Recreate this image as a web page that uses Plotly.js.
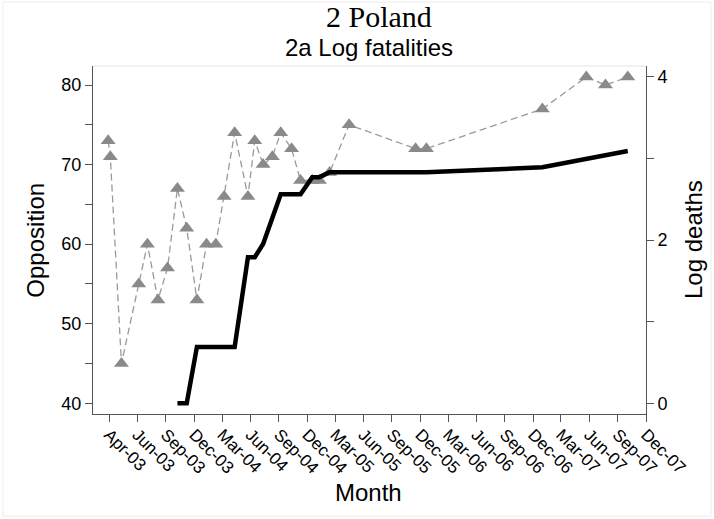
<!DOCTYPE html>
<html>
<head>
<meta charset="utf-8">
<script src="https://cdn.plot.ly/plotly-3.0.1.min.js"></script>
<style>
  html, body { margin: 0; padding: 0; background: #fff; }
  #chart { width: 714px; height: 519px; }
</style>
</head>
<body>
<div id="chart"></div>
<script>
// Survey dates for Poland
const surveyDates = [
  '2003-03-29', '2003-04-05', '2003-05-11', '2003-07-06', '2003-08-03', '2003-09-06',
  '2003-10-07', '2003-11-08', '2003-12-08', '2004-01-10', '2004-02-10', '2004-03-11',
  '2004-04-07', '2004-05-11', '2004-06-23', '2004-07-15', '2004-08-11', '2004-09-10',
  '2004-10-07', '2004-11-11', '2004-12-10', '2005-01-17', '2005-02-09', '2005-03-14',
  '2005-05-16', '2005-12-17', '2006-01-21', '2007-01-31', '2007-06-22', '2007-08-23',
  '2007-11-03'
];

// Share opposed to the war (left axis)
const opposition = [
  73, 71, 45, 55, 60, 53,
  57, 67, 62, 53, 60, 60,
  66, 74, 66, 73, 70, 71,
  74, 72, 68, 68, 68, 69,
  75, 72, 72, 77, 81, 80,
  81
];

// Log of cumulative fatalities (right axis); no deaths recorded before Nov 2003
const logDeaths = [
  null, null, null, null, null, null,
  null, 0, 0, 0.69, 0.69, 0.69,
  0.69, 0.69, 1.79, 1.79, 1.95, 2.28,
  2.56, 2.56, 2.56, 2.77, 2.77, 2.83,
  2.83, 2.83, 2.83, 2.89, 2.99, 3.04,
  3.09
];

// Month axis ticks
const monthTickDates = [
  '2003-04-01', '2003-07-01', '2003-10-01', '2004-01-01', '2004-04-01',
  '2004-07-01', '2004-10-01', '2005-01-01', '2005-04-01', '2005-07-01',
  '2005-10-01', '2006-01-01', '2006-04-01', '2006-07-01', '2006-10-01',
  '2007-01-01', '2007-04-01', '2007-07-01', '2007-10-01', '2008-01-01'
];
const monthTickLabels = [
  'Apr-03', 'Jun-03', 'Sep-03', 'Dec-03', 'Mar-04',
  'Jun-04', 'Sep-04', 'Dec-04', 'Mar-05', 'Jun-05',
  'Sep-05', 'Dec-05', 'Mar-06', 'Jun-06', 'Sep-06',
  'Dec-06', 'Mar-07', 'Jun-07', 'Sep-07', 'Dec-07'
];

const oppTicks = [40, 45, 50, 55, 60, 65, 70, 75, 80];
const oppTickLabels = ['40', '', '50', '', '60', '', '70', '', '80'];
const deathTicks = [0, 1, 2, 3, 4];
const deathTickLabels = ['0', '', '2', '', '4'];

const sans = 'Liberation Sans, Arial, Helvetica, sans-serif';
const serif = 'Liberation Serif, Times New Roman, serif';
const axisGrey = '#555555';

const traces = [
  {
    x: surveyDates,
    y: opposition,
    type: 'scatter',
    mode: 'lines+markers',
    name: 'Opposition',
    line: { color: '#9a9a9a', width: 1.3, dash: '7px,4px' },
    marker: { symbol: 'triangle-up', size: 13, color: '#8a8a8a' },
    yaxis: 'y',
    hoverinfo: 'skip'
  },
  {
    x: surveyDates,
    y: logDeaths,
    type: 'scatter',
    mode: 'lines',
    name: 'Log deaths',
    line: { color: '#000000', width: 4.5 },
    connectgaps: false,
    yaxis: 'y2',
    hoverinfo: 'skip'
  }
];

const layout = {
  width: 714,
  height: 519,
  margin: { l: 93, r: 68, t: 66, b: 105 },
  paper_bgcolor: '#ffffff',
  plot_bgcolor: '#ffffff',
  showlegend: false,
  font: { family: sans, color: '#000000', size: 18 },
  xaxis: {
    type: 'date',
    range: ['2003-02-08', '2008-01-01'],
    tickmode: 'array',
    tickvals: monthTickDates,
    ticktext: monthTickLabels,
    tickangle: 45,
    ticks: 'outside',
    ticklen: 7,
    tickcolor: axisGrey,
    tickfont: { family: sans, size: 17, color: '#000' },
    ticklabelstandoff: -4,
    showline: true,
    linecolor: axisGrey,
    linewidth: 1,
    showgrid: false,
    zeroline: false
  },
  yaxis: {
    range: [38.66, 82.39],
    tickmode: 'array',
    tickvals: oppTicks,
    ticktext: oppTickLabels,
    ticks: 'outside',
    ticklen: 7,
    tickcolor: axisGrey,
    tickfont: { family: sans, size: 18, color: '#000' },
    showline: true,
    linecolor: axisGrey,
    linewidth: 1,
    showgrid: false,
    zeroline: false
  },
  yaxis2: {
    overlaying: 'y',
    side: 'right',
    range: [-0.131, 4.131],
    tickmode: 'array',
    tickvals: deathTicks,
    ticktext: deathTickLabels,
    ticks: 'outside',
    ticklen: 7,
    tickcolor: axisGrey,
    tickfont: { family: sans, size: 18, color: '#000' },
    showline: true,
    linecolor: axisGrey,
    linewidth: 1,
    showgrid: false,
    zeroline: false
  },
  shapes: [
    // faint outline along the top of the plot region
    { type: 'line', xref: 'paper', yref: 'paper', x0: 0, x1: 1, y0: 1, y1: 1,
      line: { color: '#e4e4e4', width: 1 } },
    // faint outer frame of the graph
    { type: 'rect', xref: 'paper', yref: 'paper', x0: -0.1628, x1: 1.1176, y0: -0.293, y1: 1.1839,
      line: { color: '#ececec', width: 1 }, fillcolor: 'rgba(0,0,0,0)' }
  ],
  annotations: [
    { text: '2 Poland', xref: 'paper', yref: 'paper', x: 0.517, y: 1.141,
      xanchor: 'center', yanchor: 'middle', showarrow: false,
      font: { family: serif, size: 30, color: '#000' } },
    { text: '2a Log fatalities', xref: 'paper', yref: 'paper', x: 0.4988, y: 1.053,
      xanchor: 'center', yanchor: 'middle', showarrow: false,
      font: { family: sans, size: 24, color: '#000' } },
    { text: 'Opposition', xref: 'paper', yref: 'paper', x: -0.1055, y: 0.5,
      xanchor: 'center', yanchor: 'middle', textangle: -90, showarrow: false,
      font: { family: sans, size: 24, color: '#000' } },
    { text: 'Log deaths', xref: 'paper', yref: 'paper', x: 1.085, y: 0.5,
      xanchor: 'center', yanchor: 'middle', textangle: -90, showarrow: false,
      font: { family: sans, size: 24, color: '#000' } },
    { text: 'Month', xref: 'paper', yref: 'paper', x: 0.499, y: -0.226,
      xanchor: 'center', yanchor: 'middle', showarrow: false,
      font: { family: sans, size: 24, color: '#000' } }
  ]
};

Plotly.newPlot('chart', traces, layout, { staticPlot: true, displayModeBar: false });
</script>
</body>
</html>
